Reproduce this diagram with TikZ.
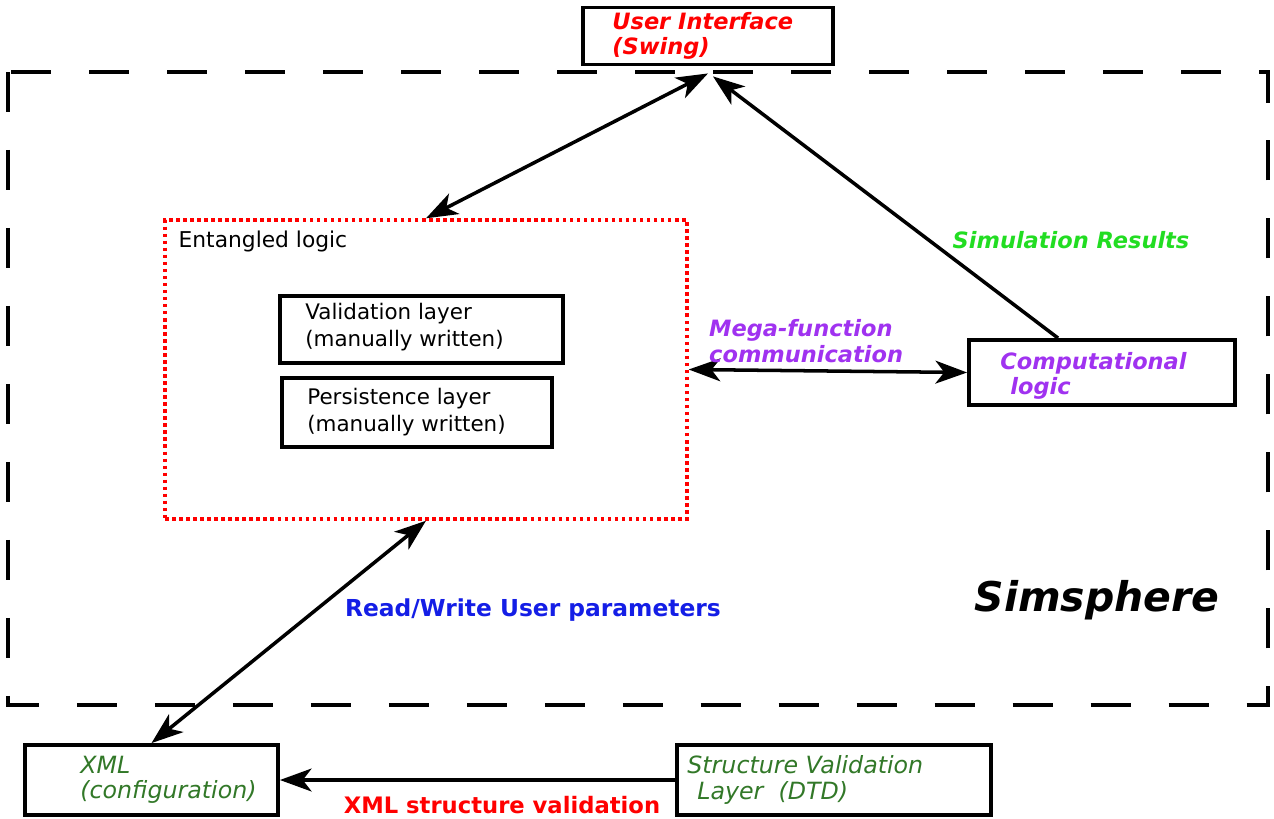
\documentclass[tikz,border=0pt]{standalone}
\usepackage{fontspec}
\setmainfont{DejaVu Sans}
\usetikzlibrary{arrows.meta}

\definecolor{simgreen}{RGB}{34,221,34}
\definecolor{megapurple}{RGB}{160,50,240}
\definecolor{rwblue}{RGB}{20,30,230}
\definecolor{xmlgreen}{RGB}{50,120,40}

\tikzset{
  box/.style = {draw, line width=2.2pt, inner sep=0pt},
  layerbox/.style = {draw, line width=2pt, inner sep=0pt},
  boxtext/.style = {anchor=west, align=left, inner sep=0pt, font=\fontsize{12.2}{15.3}\selectfont},
  emph/.style = {font=\fontsize{12.8}{14.5}\selectfont\bfseries\itshape},
  greentext/.style = {boxtext, font=\fontsize{13.5}{14.5}\selectfont\itshape, text=xmlgreen},
  conn/.style = {line width=2pt, -{Stealth[length=18pt, width=13pt, inset=5pt]}},
  dconn/.style = {line width=2pt, {Stealth[length=18pt, width=13pt, inset=5pt]}-{Stealth[length=18pt, width=13pt, inset=5pt]}}
}

\begin{document}
\begin{tikzpicture}[x=0.02cm, y=-0.02cm]
    \useasboundingbox (0,0) rectangle (1274,818);

    % Simsphere frame
    \draw[line width=2.6pt, dash pattern=on 0.8cm off 0.76cm] (8,72) rectangle (1268,705);
    \node[font=\fontsize{23.3}{26}\selectfont\bfseries\itshape] (sim) at (1097,600) {Simsphere};

    % boxes
    \node[box, fill=white, minimum width=5cm, minimum height=1.14cm] (ui) at (708,36) {};
    \node[boxtext, emph, text=red] (uitxt) at (612,36) {User Interface\\(Swing)};

    \node[draw=red, dotted, line width=2pt, minimum width=10.44cm, minimum height=5.98cm] (ent) at (426,369.5) {};
    \node[anchor=north west, inner sep=0pt, font=\fontsize{12.4}{15}\selectfont] (enttxt)
        at ([xshift=0.3cm, yshift=-0.24cm]ent.north west) {Entangled logic};

    \node[layerbox, minimum width=5.66cm, minimum height=1.34cm] (val) at (421.5,329.5) {};
    \node[boxtext] (valtxt) at (305,327) {Validation layer\\(manually written)};

    \node[layerbox, minimum width=5.4cm, minimum height=1.38cm] (per) at (417,412.5) {};
    \node[boxtext] (pertxt) at (307,412) {Persistence layer\\(manually written)};

    \node[box, minimum width=5.32cm, minimum height=1.3cm] (comp) at (1102,372.5) {};
    \node[boxtext, emph, text=megapurple] (comptxt) at (1000,376) {Computational\\\hspace*{0.2cm}logic};

    \node[box, minimum width=5.06cm, minimum height=1.4cm] (xml) at (151.5,780) {};
    \node[greentext] (xmltxt) at (80,780) {XML\\(configuration)};

    \node[box, minimum width=6.28cm, minimum height=1.4cm] (dtd) at (834,780) {};
    \node[greentext] (dtdtxt) at (687,780) {Structure Validation\\\hspace*{0.2cm}Layer\ \ (DTD)};

    % connectors
    \draw[dconn] (ent.north) -- ([yshift=-0.14cm]ui.south);
    \draw[conn] ([xshift=-0.88cm]comp.north) -- ([xshift=0.1cm, yshift=-0.2cm]ui.south);
    \draw[dconn] (ent.east) -- (comp.west);
    \draw[dconn] (ent.south) -- (xml.north);
    \draw[conn] (dtd.west) -- (xml.east);

    % connector labels
    \node[emph, text=simgreen] (simres) at (1071,240) {Simulation Results};
    \node[emph, text=megapurple, anchor=west, align=left] (mega) at (703,341) {Mega-function\\communication};
    \node[font=\fontsize{13.3}{15}\selectfont\bfseries, text=rwblue] (rw) at (533,610) {Read/Write User parameters};
    \node[font=\fontsize{12.9}{15}\selectfont\bfseries, text=red] (xmlval) at (502,805) {XML structure validation};
\end{tikzpicture}
\end{document}
